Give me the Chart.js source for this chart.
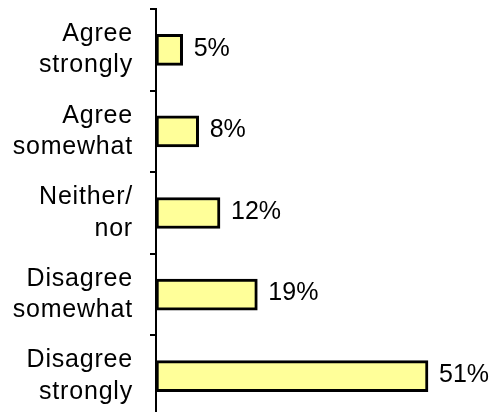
<!DOCTYPE html>
<html>
<head>
<meta charset="utf-8">
<script src="https://cdn.jsdelivr.net/npm/chart.js@4/dist/chart.umd.min.js"></script>
<style>
  html, body { margin: 0; padding: 0; background: #fff; overflow: hidden; }
  canvas { display: block; }
</style>
</head>
<body>
<canvas id="c" width="493" height="417"></canvas>
<script>
// Survey responses, share of respondents (%)
const categories = [
  ['Agree', 'strongly'],
  ['Agree', 'somewhat'],
  ['Neither/', 'nor'],
  ['Disagree', 'somewhat'],
  ['Disagree', 'strongly']
];
const shares = [5, 8, 12, 19, 51];
const valueLabels = ['5%', '8%', '12%', '19%', '51%'];

const FONT = '"Liberation Sans", Arial, sans-serif';

// Slightly looser tracking for the category labels
const labelTracking = {
  id: 'labelTracking',
  beforeDraw(chart) { chart.ctx.letterSpacing = '0.8px'; },
  afterDraw(chart) { chart.ctx.letterSpacing = '0px'; }
};

// Writes each bar's percentage just past its end
const barValueLabels = {
  id: 'barValueLabels',
  afterDatasetsDraw(chart) {
    const ctx = chart.ctx;
    const meta = chart.getDatasetMeta(0);
    ctx.save();
    ctx.letterSpacing = '0px';
    ctx.font = '25px ' + FONT;
    ctx.fillStyle = '#000';
    ctx.textAlign = 'left';
    ctx.textBaseline = 'middle';
    meta.data.forEach((bar, i) => {
      ctx.fillText(valueLabels[i], bar.x + 11, bar.y - 1);
    });
    ctx.restore();
  }
};

new Chart(document.getElementById('c'), {
  type: 'bar',
  data: {
    labels: categories,
    datasets: [{
      data: shares,
      backgroundColor: '#FFFF99',
      borderColor: '#000',
      borderWidth: 3,
      borderSkipped: false,
      barThickness: 31
    }]
  },
  options: {
    indexAxis: 'y',
    responsive: false,
    animation: false,
    layout: { padding: { top: 9, right: 17, bottom: 0, left: 0 } },
    plugins: {
      legend: { display: false },
      tooltip: { enabled: false }
    },
    scales: {
      x: {
        display: false,
        min: 0,
        max: 60
      },
      y: {
        offset: true,
        afterFit(scale) {
          scale.width = 156;
          scale.paddingTop = 0;
          scale.paddingBottom = 0;
        },
        border: { display: true, color: '#000', width: 2 },
        grid: {
          offset: true,
          drawOnChartArea: false,
          drawTicks: true,
          tickLength: 6,
          tickColor: '#000',
          lineWidth: 2
        },
        ticks: {
          color: '#000',
          padding: 17,
          font: { family: FONT, size: 25, lineHeight: 1.25 }
        }
      }
    }
  },
  plugins: [labelTracking, barValueLabels]
});
</script>
</body>
</html>
